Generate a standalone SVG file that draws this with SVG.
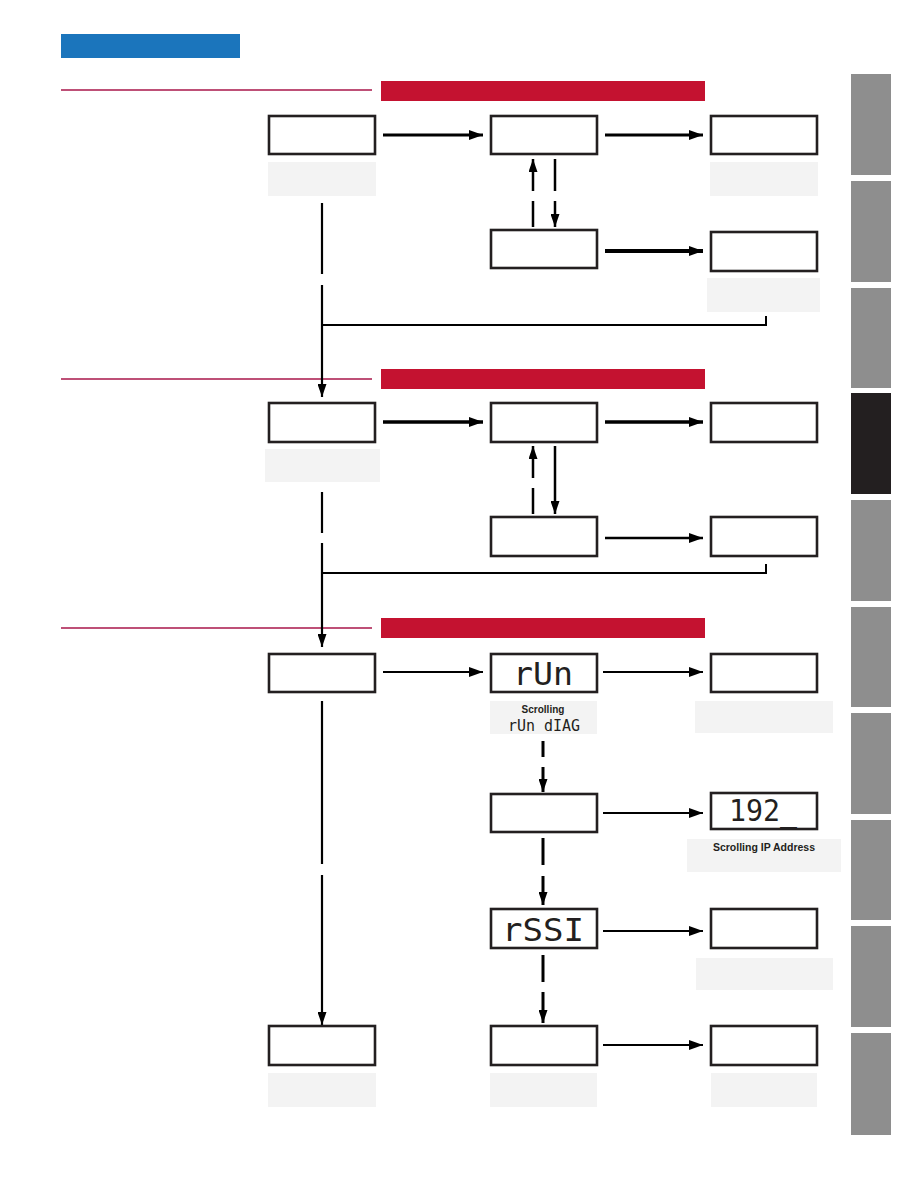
<svg xmlns="http://www.w3.org/2000/svg" width="918" height="1188" viewBox="0 0 918 1188">
<defs>
<marker id="ah" markerUnits="userSpaceOnUse" markerWidth="14" markerHeight="10" viewBox="0 0 14 10" refX="14" refY="5" orient="auto">
<path d="M0,0 L14,5 L0,10 z" fill="#000"/>
</marker>
<marker id="ahs" markerUnits="userSpaceOnUse" markerWidth="13" markerHeight="9" viewBox="0 0 13 9" refX="13" refY="4.5" orient="auto">
<path d="M0,0 L13,4.5 L0,9 z" fill="#000"/>
</marker>
</defs>
<style>
.box{fill:#fff;stroke:#231f20;stroke-width:2.6}
.lbl{fill:#f3f3f3}
.tab{fill:#8e8e8e}
.rule{stroke:#a8164a;stroke-width:1.4}
.bar{fill:#c41230}
.c{stroke:#000;fill:none}
.seg{font-family:"DejaVu Sans Mono","Liberation Mono",monospace;fill:#231f20}
.cap{font-family:"Liberation Sans",Arial,sans-serif;font-weight:bold;fill:#231f20;text-anchor:middle}
</style>
<rect width="918" height="1188" fill="#fff"/>

<g id="header">
<rect x="61" y="34" width="179" height="24" fill="#1b75bc"/>
</g>

<g id="side-tabs">
<rect class="tab" x="851" y="74" width="40" height="101"/>
<rect class="tab" x="851" y="181" width="40" height="101"/>
<rect class="tab" x="851" y="288" width="40" height="100"/>
<rect x="851" y="393" width="40" height="101" fill="#231f20"/>
<rect class="tab" x="851" y="500" width="40" height="101"/>
<rect class="tab" x="851" y="607" width="40" height="100"/>
<rect class="tab" x="851" y="713" width="40" height="101"/>
<rect class="tab" x="851" y="820" width="40" height="100"/>
<rect class="tab" x="851" y="926" width="40" height="101"/>
<rect class="tab" x="851" y="1033" width="40" height="102"/>
</g>

<g id="section-headers">
<line class="rule" x1="61" y1="90" x2="372" y2="90"/>
<rect class="bar" x="381" y="81" width="324" height="20"/>
<line class="rule" x1="61" y1="379" x2="372" y2="379"/>
<rect class="bar" x="381" y="369" width="324" height="20"/>
<line class="rule" x1="61" y1="628" x2="372" y2="628"/>
<rect class="bar" x="381" y="618" width="324" height="20"/>
</g>

<g id="connectors">
<line class="c" x1="383" y1="135" x2="483" y2="135" stroke-width="3" marker-end="url(#ah)"/>
<line class="c" x1="605" y1="135" x2="703" y2="135" stroke-width="3" marker-end="url(#ah)"/>
<line class="c" x1="533" y1="227" x2="533" y2="201" stroke-width="2.5"/>
<line class="c" x1="533" y1="191" x2="533" y2="159" stroke-width="2.5" marker-end="url(#ahs)"/>
<line class="c" x1="555" y1="159" x2="555" y2="191" stroke-width="2.5"/>
<line class="c" x1="555" y1="201" x2="555" y2="227" stroke-width="2.5" marker-end="url(#ahs)"/>
<line class="c" x1="605" y1="251" x2="703" y2="251" stroke-width="4" marker-end="url(#ah)"/>
<line class="c" x1="322" y1="203" x2="322" y2="274" stroke-width="2.2"/>
<line class="c" x1="322" y1="285" x2="322" y2="397" stroke-width="2.2" marker-end="url(#ahs)"/>
<polyline class="c" points="766,316 766,325 322,325" stroke-width="2"/>
<line class="c" x1="383" y1="422" x2="483" y2="422" stroke-width="3.5" marker-end="url(#ah)"/>
<line class="c" x1="605" y1="422" x2="703" y2="422" stroke-width="3.5" marker-end="url(#ah)"/>
<line class="c" x1="533" y1="514" x2="533" y2="488" stroke-width="2.5"/>
<line class="c" x1="533" y1="478" x2="533" y2="446" stroke-width="2.5" marker-end="url(#ahs)"/>
<line class="c" x1="555" y1="446" x2="555" y2="514" stroke-width="2.5" marker-end="url(#ahs)"/>
<line class="c" x1="605" y1="538" x2="703" y2="538" stroke-width="2.5" marker-end="url(#ah)"/>
<line class="c" x1="322" y1="492" x2="322" y2="533" stroke-width="2.2"/>
<line class="c" x1="322" y1="543" x2="322" y2="647" stroke-width="2.2" marker-end="url(#ahs)"/>
<polyline class="c" points="766,564 766,573 322,573" stroke-width="2"/>
<line class="c" x1="383" y1="672" x2="483" y2="672" stroke-width="2" marker-end="url(#ah)"/>
<line class="c" x1="603" y1="672" x2="703" y2="672" stroke-width="2" marker-end="url(#ah)"/>
<line class="c" x1="543" y1="741" x2="543" y2="757" stroke-width="3"/>
<line class="c" x1="543" y1="767" x2="543" y2="792" stroke-width="3" marker-end="url(#ahs)"/>
<line class="c" x1="603" y1="813" x2="703" y2="813" stroke-width="2" marker-end="url(#ah)"/>
<line class="c" x1="543" y1="838" x2="543" y2="865" stroke-width="3"/>
<line class="c" x1="543" y1="876" x2="543" y2="905" stroke-width="3" marker-end="url(#ahs)"/>
<line class="c" x1="603" y1="931" x2="703" y2="931" stroke-width="2" marker-end="url(#ah)"/>
<line class="c" x1="543" y1="955" x2="543" y2="982" stroke-width="3"/>
<line class="c" x1="543" y1="992" x2="543" y2="1023" stroke-width="3" marker-end="url(#ahs)"/>
<line class="c" x1="603" y1="1045" x2="703" y2="1045" stroke-width="2" marker-end="url(#ah)"/>
<line class="c" x1="322" y1="701" x2="322" y2="864" stroke-width="2.2"/>
<line class="c" x1="322" y1="875" x2="322" y2="1025" stroke-width="2.2" marker-end="url(#ahs)"/>
</g>

<g id="n1a"><rect class="box" x="269" y="116" width="106" height="38"/><rect class="lbl" x="268" y="162" width="108" height="34"/></g>
<g id="n1b"><rect class="box" x="491" y="116" width="106" height="38"/></g>
<g id="n1c"><rect class="box" x="711" y="116" width="106" height="38"/><rect class="lbl" x="710" y="162" width="108" height="34"/></g>
<g id="n1d"><rect class="box" x="491" y="230" width="106" height="38"/></g>
<g id="n1e"><rect class="box" x="711" y="232" width="106" height="39" stroke-width="3"/><rect class="lbl" x="707" y="278" width="113" height="34"/></g>

<g id="n2a"><rect class="box" x="269" y="403" width="106" height="39"/><rect class="lbl" x="265" y="449" width="115" height="33"/></g>
<g id="n2b"><rect class="box" x="491" y="403" width="106" height="39"/></g>
<g id="n2c"><rect class="box" x="711" y="403" width="106" height="39"/></g>
<g id="n2d"><rect class="box" x="491" y="517" width="106" height="39"/></g>
<g id="n2e"><rect class="box" x="711" y="517" width="106" height="39"/></g>

<g id="n3a"><rect class="box" x="269" y="654" width="106" height="38"/></g>
<g id="n3b">
<rect class="box" x="491" y="654" width="106" height="38"/>
<text class="seg" x="543" y="685" font-size="32" text-anchor="middle" textLength="60" lengthAdjust="spacingAndGlyphs">rUn</text>
<rect class="lbl" x="490" y="701" width="107" height="33"/>
<text class="cap" x="543" y="713" font-size="10">Scrolling</text>
<text class="seg" x="544" y="731" font-size="15" text-anchor="middle" textLength="72" lengthAdjust="spacingAndGlyphs">rUn dIAG</text>
</g>
<g id="n3c"><rect class="box" x="711" y="654" width="106" height="38"/><rect class="lbl" x="695" y="701" width="138" height="32"/></g>
<g id="n3d"><rect class="box" x="491" y="794" width="106" height="38"/></g>
<g id="n3e">
<rect class="box" x="711" y="793" width="106" height="36"/>
<text class="seg" x="763" y="821" font-size="30" text-anchor="middle" textLength="68" lengthAdjust="spacingAndGlyphs">192_</text>
<rect class="lbl" x="687" y="839" width="154" height="33"/>
<text class="cap" x="764" y="851" font-size="10.5">Scrolling IP Address</text>
</g>
<g id="n3f">
<rect class="box" x="491" y="909" width="106" height="39"/>
<text class="seg" x="543" y="941" font-size="32" text-anchor="middle" textLength="82" lengthAdjust="spacingAndGlyphs">rSSI</text>
</g>
<g id="n3g"><rect class="box" x="711" y="909" width="106" height="39"/><rect class="lbl" x="696" y="958" width="137" height="32"/></g>
<g id="n3h"><rect class="box" x="491" y="1026" width="106" height="39"/><rect class="lbl" x="490" y="1073" width="107" height="34"/></g>
<g id="n3i"><rect class="box" x="711" y="1026" width="106" height="39"/><rect class="lbl" x="711" y="1073" width="106" height="34"/></g>
<g id="n3j"><rect class="box" x="269" y="1026" width="106" height="39"/><rect class="lbl" x="268" y="1073" width="108" height="34"/></g>
</svg>
